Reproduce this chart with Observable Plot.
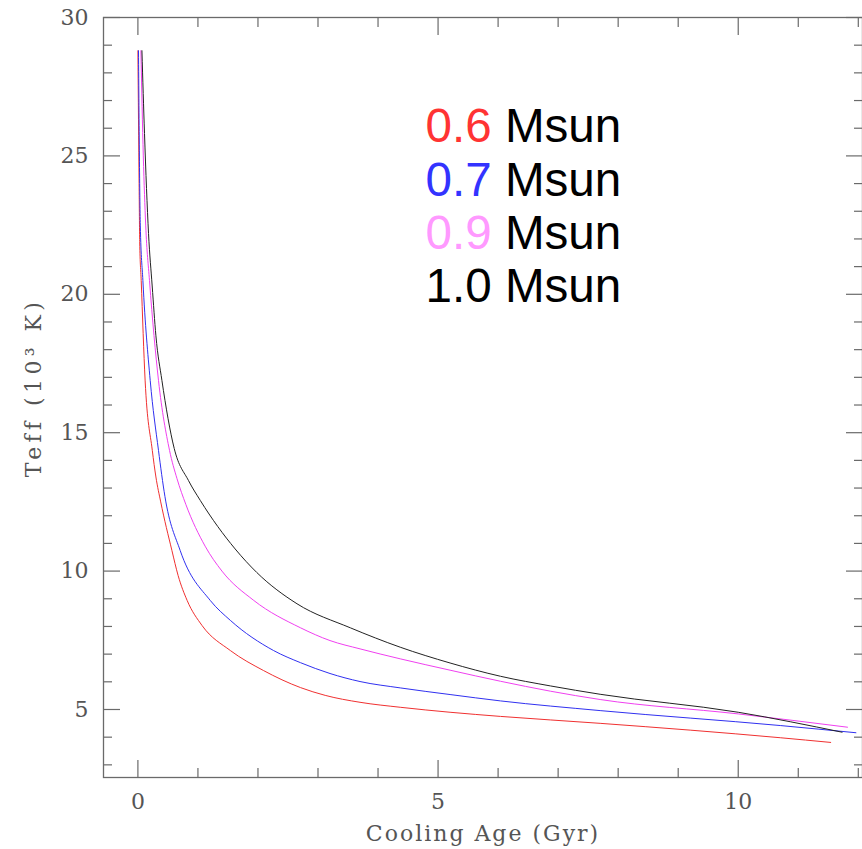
<!DOCTYPE html>
<html>
<head>
<meta charset="utf-8">
<script src="https://cdn.jsdelivr.net/npm/d3@7"></script>
<script src="https://cdn.jsdelivr.net/npm/@observablehq/plot@0.6"></script>
<style>
  html, body { margin: 0; padding: 0; background: #fff; }
</style>
</head>
<body>
<div id="chart"></div>
<script>
// ---- data ----
const masses = ["0.6", "0.7", "0.9", "1.0"];
const lineColors = ["#f03030", "#3030f0", "#f040f0", "#222222"];
const legendColors = ["#ff3333", "#3333ff", "#ff99ff", "#000000"];

const age06 = [0.0, 0.02, 0.03, 0.055, 0.12, 0.24, 0.30, 0.38, 0.567, 0.67, 0.82, 1.07, 1.54, 2.09, 2.71, 3.12, 3.7, 4.37, 5.2, 6.04, 7.7, 10.7, 11.54];
const teff06 = [28.8, 24.0, 21.9, 20.5, 16.9, 14.36, 13.4, 12.5, 10.74, 9.84, 8.94, 8.03, 7.13, 6.41, 5.79, 5.51, 5.26, 5.08, 4.90, 4.75, 4.5, 3.98, 3.81];

const age07 = [0.01, 0.04, 0.083, 0.205, 0.343, 0.45, 0.705, 1.205, 1.54, 2.26, 2.71, 3.2, 3.7, 4.37, 5.2, 6.04, 7.7, 10.7, 11.96];
const teff07 = [28.8, 22.5, 20.5, 16.89, 14.36, 12.7, 10.74, 8.94, 8.22, 7.13, 6.69, 6.3, 6.01, 5.78, 5.54, 5.31, 4.96, 4.42, 4.16];

const age09 = [0.05, 0.09, 0.13, 0.193, 0.343, 0.527, 0.65, 0.8, 1.12, 1.4, 1.93, 2.71, 3.2, 3.7, 4.37, 5.2, 6.04, 6.875, 7.7, 10.0, 11.82];
const teff09 = [28.8, 25.0, 22.5, 20.5, 16.89, 14.36, 13.35, 12.4, 10.9, 10.0, 8.94, 7.95, 7.49, 7.19, 6.83, 6.42, 6.02, 5.66, 5.36, 4.84, 4.36];

const age10 = [0.067, 0.11, 0.177, 0.238, 0.3, 0.4, 0.605, 0.843, 1.04, 1.62, 1.98, 2.65, 3.54, 4.37, 5.2, 6.04, 6.875, 7.7, 10.0, 11.73];
const teff10 = [28.8, 25.81, 22.2, 20.3, 18.5, 16.89, 14.43, 13.27, 12.55, 10.8, 9.95, 8.82, 7.95, 7.25, 6.68, 6.2, 5.85, 5.55, 4.9, 4.18];

const xMajor = [0, 5, 10];
const xMinor = [1, 2, 3, 4, 6, 7, 8, 9, 11, 12];
const yMajor = [5, 10, 15, 20, 25, 30];
const yMinor = [3, 4, 6, 7, 8, 9, 11, 12, 13, 14, 16, 17, 18, 19, 21, 22, 23, 24, 26, 27, 28, 29];

const xLabel = "Cooling Age (Gyr)";
const yLabel = "Teff (10³ K)";
const unit = "Msun";

// ---- build table ----
const series = [
  {mass: masses[0], age: age06, teff: teff06},
  {mass: masses[1], age: age07, teff: teff07},
  {mass: masses[2], age: age09, teff: teff09},
  {mass: masses[3], age: age10, teff: teff10}
];
const rows = series.flatMap(s => s.age.map((a, i) => ({mass: s.mass, age: a, teff: s.teff[i]})));

const axisColor = "#6a6a6a";
const tickMarks = (fn, ticks, anchor, size) =>
  fn(ticks, {anchor, tickSize: -size, tickFormat: () => "", label: null, stroke: axisColor, strokeWidth: 1.2});

const legendFont = "'Liberation Sans', Arial, sans-serif";
const legendMarks = masses.flatMap((m, i) => [
  Plot.text([m], {text: d => d, frameAnchor: "top-left", dx: 322, dy: 124.7 + 53.3 * i,
    fill: legendColors[i], fontSize: 47.6, fontFamily: legendFont,
    textAnchor: "start", lineAnchor: "bottom"}),
  Plot.text([unit], {text: d => d, frameAnchor: "top-left", dx: 322 + 79.4, dy: 124.7 + 53.3 * i,
    fill: "#000", fontSize: 47.6, fontFamily: legendFont,
    textAnchor: "start", lineAnchor: "bottom"})
]);

const chart = Plot.plot({
  width: 862,
  height: 849,
  marginLeft: 103,
  marginRight: 0,
  marginTop: 17,
  marginBottom: 72,
  x: {domain: [-0.573, 12.07], label: null},
  y: {domain: [2.543, 30], label: null},
  color: {domain: masses, range: lineColors},
  style: {fontFamily: "'DejaVu Serif', serif", fontSize: "22px", color: "#555", background: "#fff"},
  marks: [
    Plot.line(rows, {x: "age", y: "teff", z: "mass", stroke: "mass", strokeWidth: 1, curve: "monotone-x"}),
    Plot.frame({stroke: axisColor, strokeWidth: 1.3}),
    tickMarks(Plot.axisX, xMajor, "bottom", 17),
    tickMarks(Plot.axisX, xMinor, "bottom", 9),
    tickMarks(Plot.axisX, xMajor, "top", 17),
    tickMarks(Plot.axisX, xMinor, "top", 9),
    tickMarks(Plot.axisY, yMajor, "left", 17),
    tickMarks(Plot.axisY, yMinor, "left", 9),
    tickMarks(Plot.axisY, yMajor, "right", 17),
    tickMarks(Plot.axisY, yMinor, "right", 9),
    Plot.axisX(xMajor, {anchor: "bottom", tickSize: 0, tickPadding: 16, label: null, fill: "#555", fontSize: 22}),
    Plot.axisY(yMajor, {anchor: "left", tickSize: 0, tickPadding: 15, label: null, fill: "#555", fontSize: 22}),
    Plot.text([xLabel], {text: d => d, frameAnchor: "bottom", dy: 56, textAnchor: "middle", lineAnchor: "middle", fill: "#555", fontSize: 22}),
    Plot.text([yLabel], {text: d => d, frameAnchor: "left", dx: -70, dy: -10, rotate: -90, textAnchor: "middle", lineAnchor: "middle", fill: "#555", fontSize: 22}),
    ...legendMarks
  ]
});

document.getElementById("chart").appendChild(chart);

// letter-spacing on the axis titles to match the reference's wide lettering
d3.select(chart).selectAll("text").each(function() {
  const t = this.textContent;
  if (t === xLabel) this.setAttribute("letter-spacing", "2");
  if (t === yLabel) this.setAttribute("letter-spacing", "4.4");
});
</script>
</body>
</html>
